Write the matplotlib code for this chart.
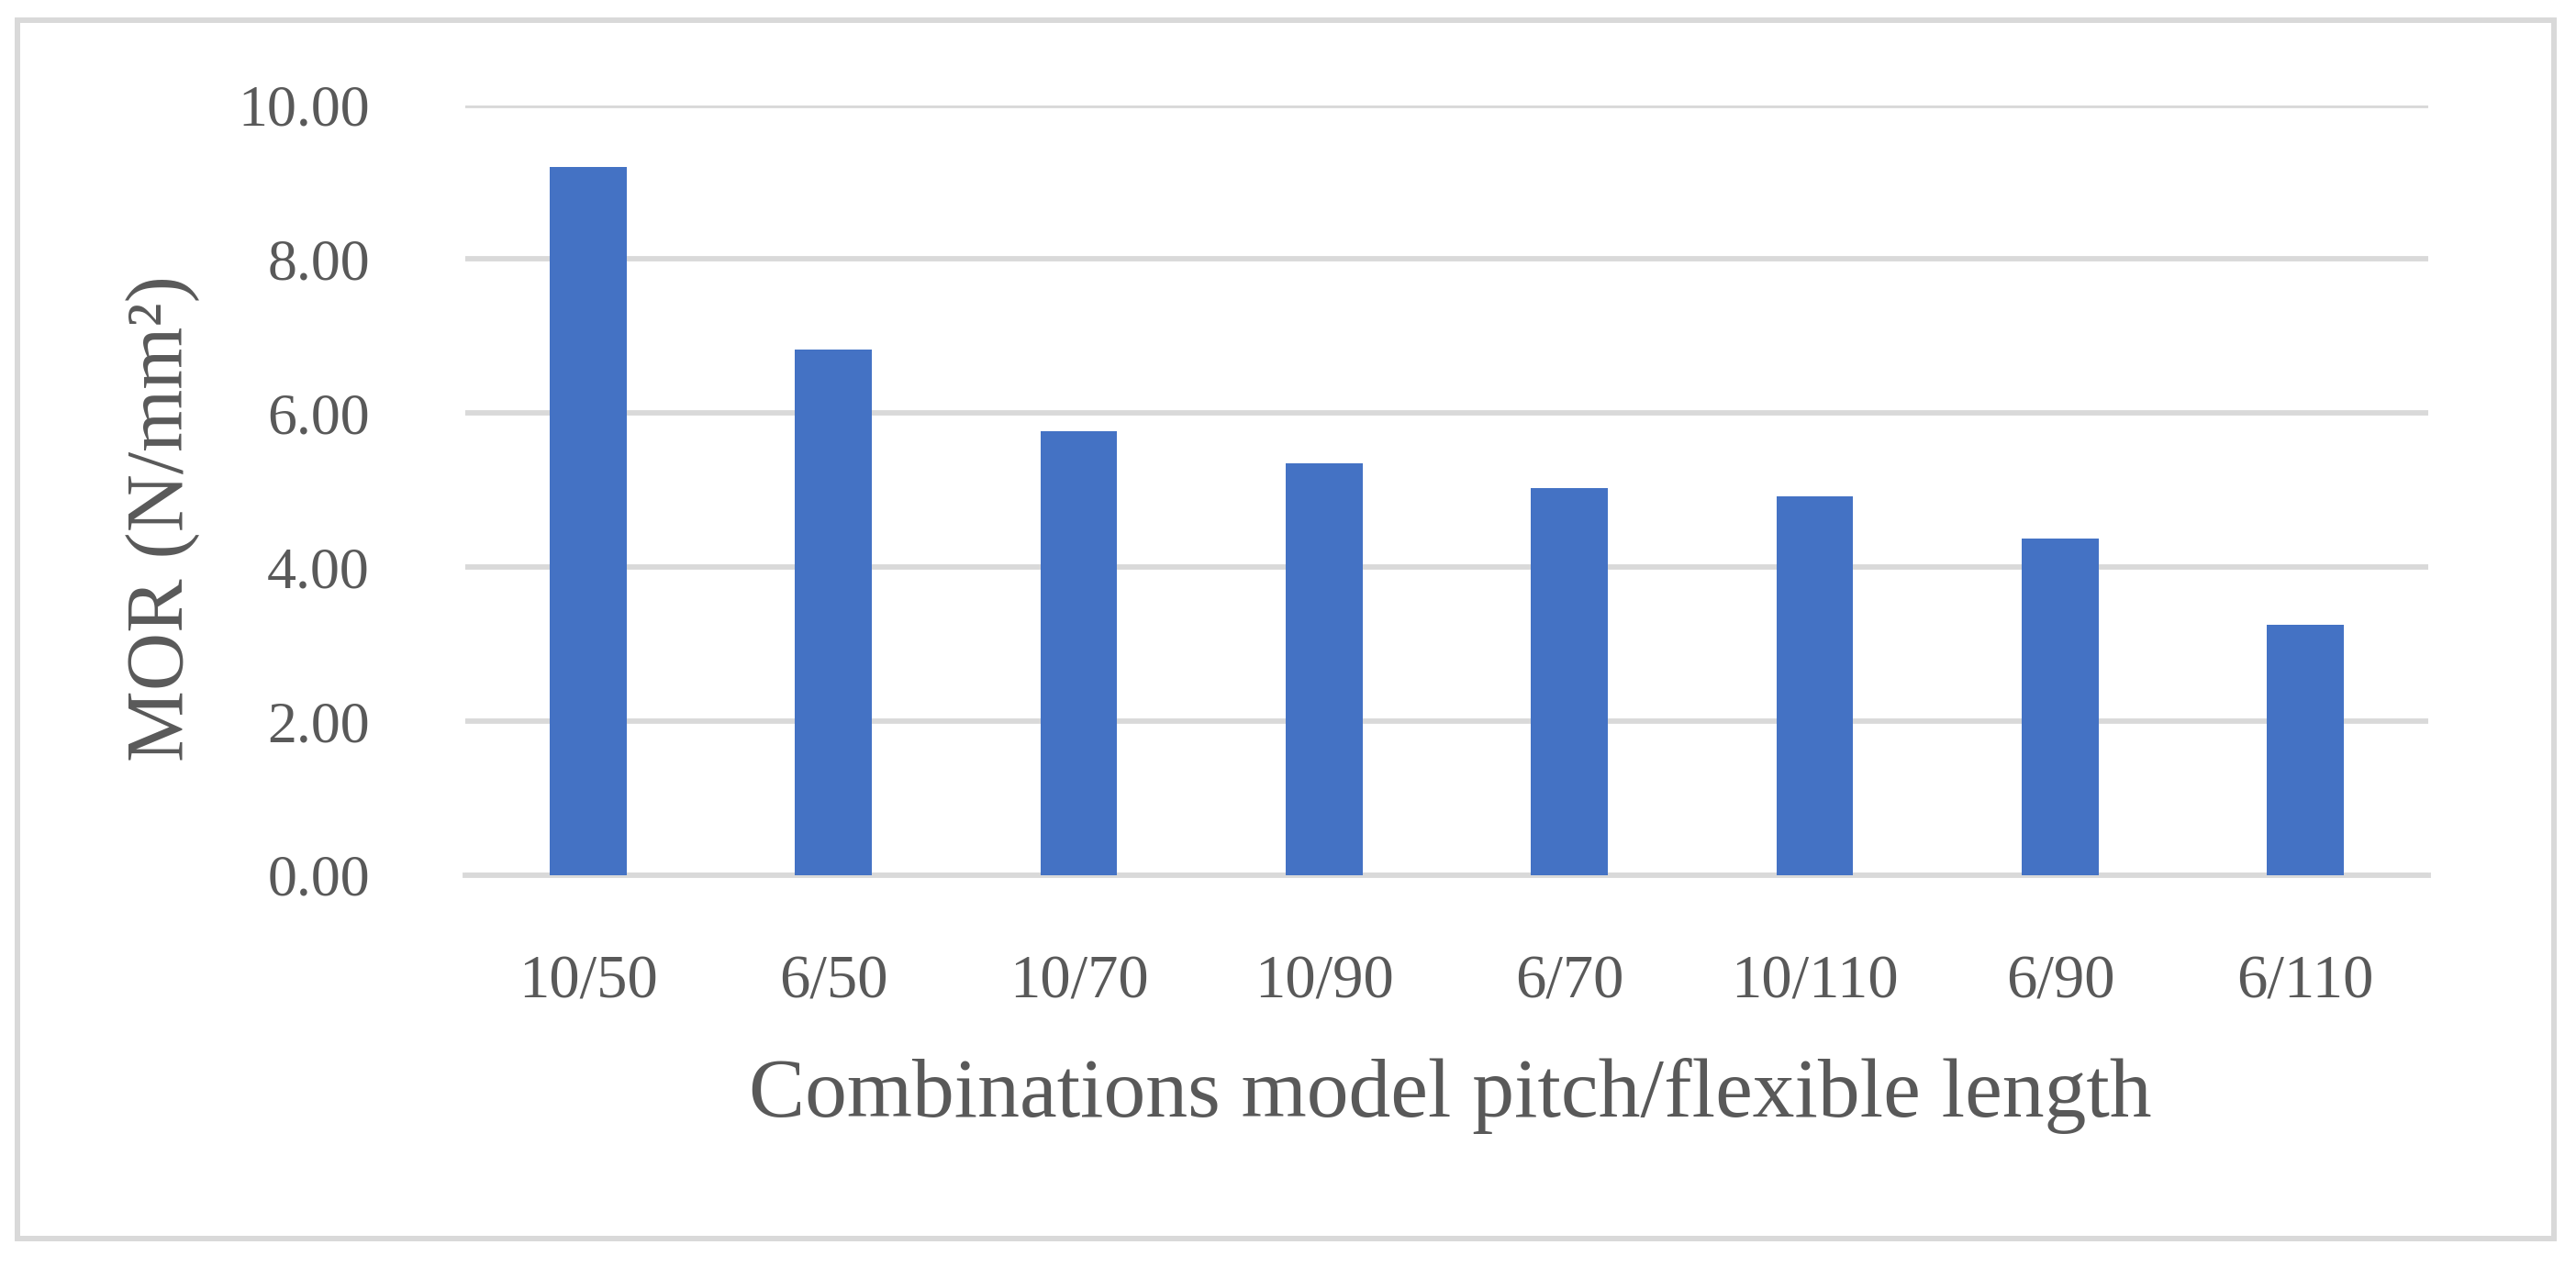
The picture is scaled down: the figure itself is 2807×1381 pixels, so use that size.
import matplotlib
matplotlib.use("Agg")
import matplotlib.pyplot as plt
from matplotlib.patches import Rectangle

categories = ["10/50", "6/50", "10/70", "10/90", "6/70", "10/110", "6/90", "6/110"]
mor_values = [9.19, 6.82, 5.76, 5.35, 5.03, 4.92, 4.37, 3.25]
y_ticks = [0, 2, 4, 6, 8, 10]

W, H = 2807, 1381
plt.rcParams['font.family'] = ['Liberation Serif', 'DejaVu Serif']
text_color = "#595959"
grid_color = "#D9D9D9"
bar_color = "#4472C4"

fig = plt.figure(figsize=(W / 100, H / 100), dpi=100)
ax = fig.add_axes([507 / W, 1 - 954 / H, (2646 - 507) / W, (954 - 114.5) / H])

x = list(range(len(categories)))
ax.bar(x, mor_values, width=0.313, color=bar_color, zorder=3)
ax.set_xlim(-0.5, len(categories) - 0.5)
ax.set_ylim(0, 10)
ax.set_yticks(y_ticks)
ax.set_yticklabels([f"{v:.2f}" for v in y_ticks])
ax.set_xticks(x)
ax.set_xticklabels(categories)
ax.yaxis.grid(True, color=grid_color, linewidth=4.2, zorder=0)
ax.set_axisbelow(True)
for s in ["top", "right", "left"]:
    ax.spines[s].set_visible(False)
ax.spines["bottom"].set_color(grid_color)
ax.spines["bottom"].set_linewidth(4.2)
ax.spines["bottom"].set_zorder(1)
ax.tick_params(axis="both", length=0, labelsize=46, colors=text_color)
ax.tick_params(axis="x", labelsize=48, pad=62)
ax.tick_params(axis="y", pad=75)

fig.text(178 / W, 1 - 565 / H, "MOR (N/mm²)", rotation=90, ha="center", va="center",
         fontsize=63, color=text_color)
fig.text(1580 / W, 1 - 1195 / H, "Combinations model pitch/flexible length", ha="center",
         va="center", fontsize=66, color=text_color)

fig.patches.append(Rectangle((19 / W, 1 - 1350 / H), (2783 - 19) / W, (1350 - 22) / H,
                             transform=fig.transFigure, fill=False, edgecolor=grid_color,
                             linewidth=4.3))

fig.savefig("out.png", dpi=100, facecolor="white")
